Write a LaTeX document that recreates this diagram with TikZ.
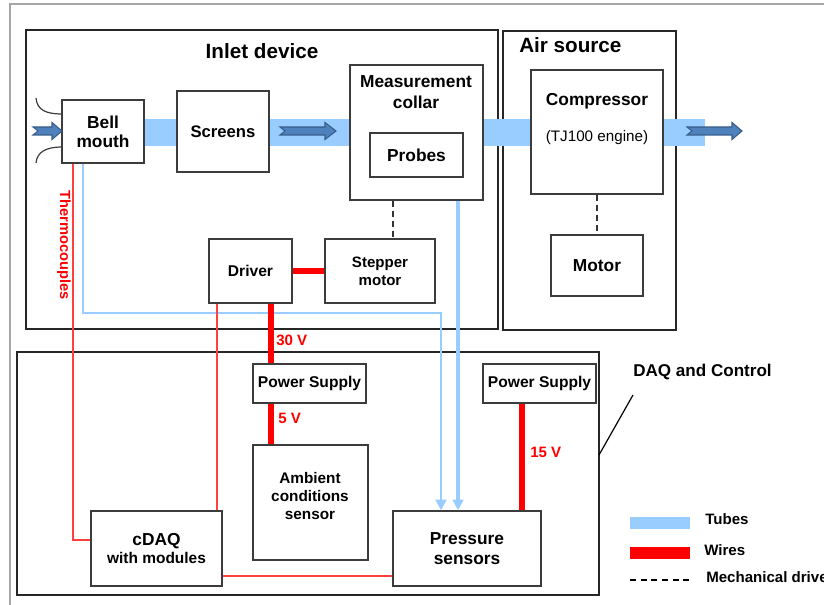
\documentclass[tikz,border=0pt]{standalone}
\usepackage{fontspec}
\setmainfont{Liberation Sans}
\usetikzlibrary{arrows.meta,calc}
\definecolor{tubeblue}{RGB}{153,204,255}
\definecolor{arrfill}{RGB}{79,129,189}
\definecolor{arrdraw}{RGB}{56,93,138}
\definecolor{boxline}{RGB}{60,60,60}
\tikzset{
 box/.style={draw=boxline, fill=white, line width=1pt, align=center, inner sep=0pt, font=\bfseries\fontsize{13}{14.5}\selectfont},
 outerbox/.style={draw=black!85, line width=1.4pt, fill=none},
 tube/.style={draw=tubeblue, line width=1.8pt, -{Triangle[width=8pt,length=8pt]}},
 thicktube/.style={tube, line width=2.4pt},
 wire/.style={draw=red, line width=4pt},
 thinwire/.style={draw=red!75, line width=0.9pt},
 mech/.style={draw=black!80, line width=1.2pt, dash pattern=on 4.5pt off 3pt},
 title/.style={font=\bfseries\fontsize{15.5}{18}\selectfont, inner sep=0pt},
 lbl/.style={inner sep=0pt, align=center},
 volt/.style={font=\bfseries\fontsize{11.3}{13}\selectfont, text=red, inner sep=0pt, anchor=west},
 fat/.style={fill=arrfill, draw=arrdraw, line width=0.8pt},
 legtext/.style={anchor=west, font=\bfseries\fontsize{11.3}{13}\selectfont, inner sep=0pt},
}
\newcommand{\pbox}[7][]{\node[box,minimum width={(#4-#2)*0.75pt},minimum height={(#5-#3)*0.75pt},#1] (#6) at ({(#2+#4)/2},{(#3+#5)/2}) {#7};}
\newcommand{\fatarrow}[4]{\filldraw[fat] ({#1},{#4-4}) -- ({#3},{#4-4}) -- ({#3},{#4-8.5}) -- ({#2},{#4}) -- ({#3},{#4+8.5}) -- ({#3},{#4+4}) -- ({#1},{#4+4}) -- ({#1+5},{#4}) -- cycle;}
\begin{document}
\begin{tikzpicture}[x=0.75pt,y=-0.75pt]
\useasboundingbox (0,0) rectangle (824,605);
\draw[gray!70, line width=1.2pt] (10,605) -- (10,4) -- (824,4);
% containers
\pbox[outerbox]{26}{30}{498}{329}{inlet}{}
\pbox[outerbox]{503}{31}{676}{330}{air}{}
\pbox[outerbox]{17}{352}{599}{595}{daq}{}
\node[title] at (262,51) {Inlet device};
\node[title, anchor=west] at (519,45) {Air source};
% air band
\fill[tubeblue] (120,119) rectangle (705,146);
% bell curves
\draw[boxline, line width=0.9pt] (36,98) .. controls (37,110) and (46,114) .. (62,114);
\draw[boxline, line width=0.9pt] (36,163) .. controls (37,152) and (46,147) .. (62,147);
% boxes
\pbox{62}{100}{144}{163}{bell}{Bell\\mouth}
\pbox[font=\bfseries\fontsize{12.5}{14}\selectfont]{177}{91}{269}{172}{screens}{Screens}
\pbox{350}{65}{483}{200}{collar}{}
\node[lbl, font=\bfseries\fontsize{13}{15.75}\selectfont] at (416,92) {Measurement\\collar};
\pbox{370}{133}{463}{177}{probes}{Probes}
\pbox{531}{70}{663}{194}{comp}{}
\node[lbl, font=\bfseries\fontsize{13}{15}\selectfont] at (597,101) {Compressor};
\node[lbl, font=\fontsize{11.4}{13}\selectfont] at (597,138) {(TJ100 engine)};
\pbox{551}{235}{643}{296}{motor}{Motor}
\pbox[font=\bfseries\fontsize{11.7}{13}\selectfont]{209}{239}{292}{303}{driver}{Driver}
\pbox[font=\bfseries\fontsize{11.3}{13.5}\selectfont]{325}{239}{435}{303}{stepper}{Stepper\\motor}
\pbox[font=\bfseries\fontsize{11.7}{13}\selectfont]{253}{364}{366}{403}{ps1}{Power Supply}
\pbox[font=\bfseries\fontsize{11.7}{13}\selectfont]{483}{364}{596}{403}{ps2}{Power Supply}
\pbox{253}{445}{368}{560}{amb}{}
\node[lbl, font=\bfseries\fontsize{11.5}{13.2}\selectfont] at (310,496) {Ambient\\conditions\\sensor};
\pbox{91}{511}{222}{586}{cdaq}{cDAQ\\[-1pt]{\fontsize{11.6}{13}\selectfont with modules}}
\pbox{393}{511}{541}{586}{psens}{Pressure\\sensors}
% flow arrows
\fatarrow{33}{62}{52}{131}
\fatarrow{280}{336}{325}{131}
\fatarrow{687}{742}{732}{131}
% helper coordinates
\coordinate (tA) at (83,313);
\coordinate (tB) at (441,313);
\coordinate (tC) at (458,0);
\coordinate (th) at (73,540);
\coordinate (dx) at (217,0);
\coordinate (px) at (271,0);
\coordinate (qx) at (522,0);
\coordinate (cy) at (0,576);
\coordinate (mx) at (393,0);
% tubes
\draw[tube] (bell.south -| tA) |- (tB) -- (psens.north -| tB);
\draw[thicktube] (collar.south -| tC) -- (psens.north -| tC);
% wires
\draw[thinwire] (bell.south -| th) -- (th) -- (cdaq.west |- th);
\draw[thinwire] (driver.south -| dx) -- (cdaq.north -| dx);
\draw[thinwire] (cdaq.east |- cy) -- (psens.west |- cy);
\draw[wire] (driver.east) -- (stepper.west);
\draw[wire] (driver.south -| px) -- (ps1.north -| px);
\draw[wire] (ps1.south -| px) -- (amb.north -| px);
\draw[wire] (ps2.south -| qx) -- (psens.north -| qx);
% mechanical
\draw[mech] (collar.south -| mx) -- (stepper.north -| mx);
\draw[mech] (comp.south) -- (motor.north);
% labels
\node[volt] at (276,340) {30 V};
\node[volt] at (278,418) {5 V};
\node[volt] at (530,452) {15 V};
\node[rotate=-90, font=\bfseries\fontsize{11}{13}\selectfont, text=red, inner sep=0pt] at (64,245) {Thermocouples};
\node[anchor=west, font=\bfseries\fontsize{12.8}{15}\selectfont, inner sep=0pt] (daqlbl) at (633,372) {DAQ and Control};
\coordinate (l1) at (633,395);
\coordinate (l2) at (599,455);
\draw[line width=0.9pt] (l1) -- (l2);
% legend
\fill[tubeblue] (630,517) rectangle (690,529);
\fill[red] (630,547) rectangle (690,559);
\draw[black, line width=1pt, dash pattern=on 4.5pt off 3.5pt] (630,580) -- (690,580);
\node[legtext] at (705,519) {Tubes};
\node[legtext] at (704,550) {Wires};
\node[legtext] at (706,577) {Mechanical drive};
\end{tikzpicture}
\end{document}
